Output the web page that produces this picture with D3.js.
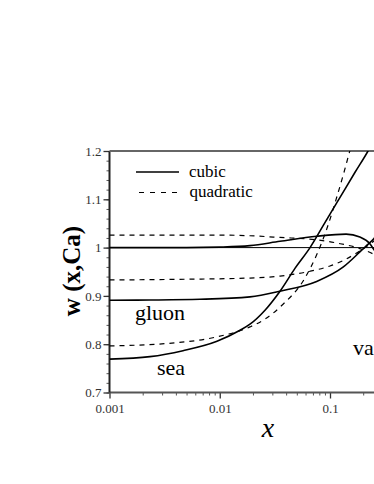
<!DOCTYPE html>
<html>
<head>
<meta charset="utf-8">
<script src="https://cdn.jsdelivr.net/npm/d3@7"></script>
<style>
  body { margin: 0; background: #fff; overflow: hidden; }
  svg { display: block; }
  .lbl { font-family: "Liberation Serif", "Times New Roman", serif; fill: #000; }
</style>
</head>
<body>
<svg id="chart"></svg>
<script>
var W = 374, H = 484;
var margin = {top: 151, left: 109.5, bottom: 91.5};

// x values, w values off the linear axis
var seaCubicX   = [0.001, 0.00233, 0.00464, 0.00944, 0.01527, 0.0188, 0.02573, 0.0352, 0.0481, 0.0659, 0.0883, 0.1233, 0.1687, 0.2212, 0.26];
var seaCubicW   = [0.769, 0.7742, 0.7866, 0.806, 0.8288, 0.8414, 0.8704, 0.9097, 0.957, 1.000, 1.0486, 1.104, 1.156, 1.2, 1.23];
var seaQuadX    = [0.001, 0.0033, 0.00938, 0.0188, 0.0257, 0.0375, 0.0569, 0.0762, 0.0939, 0.1157, 0.134, 0.1519, 0.17];
var seaQuadW    = [0.7965, 0.8014, 0.8151, 0.8358, 0.8518, 0.8828, 0.9304, 0.9866, 1.040, 1.106, 1.156, 1.2017, 1.24];
var gluonCubicX = [0.001, 0.00233, 0.00662, 0.0188, 0.0352, 0.0757, 0.1322, 0.1866, 0.2165, 0.2506, 0.3];
var gluonCubicW = [0.891, 0.8915, 0.893, 0.898, 0.9097, 0.930, 0.960, 0.991, 1.005, 1.0188, 1.04];
var gluonQuadX  = [0.001, 0.005, 0.0188, 0.0352, 0.0659, 0.1, 0.134, 0.1866, 0.23, 0.3];
var gluonQuadW  = [0.933, 0.9345, 0.937, 0.941, 0.951, 0.962, 0.974, 0.993, 1.007, 1.03];
var valCubicX   = [0.001, 0.005, 0.01, 0.0188, 0.0352, 0.0757, 0.14, 0.1866, 0.23, 0.25, 0.3];
var valCubicW   = [1.0, 1.0, 1.001, 1.004, 1.013, 1.0235, 1.028, 1.022, 1.008, 0.996, 0.975];
var valQuadX    = [0.001, 0.01, 0.0188, 0.0352, 0.0757, 0.118, 0.1866, 0.25, 0.3];
var valQuadW    = [1.026, 1.026, 1.0245, 1.021, 1.016, 1.009, 0.998, 0.986, 0.975];

var xTicks = [0.001, 0.01, 0.1];
var xTickLabels = ["0.001", "0.01", "0.1"];
var yTicks = [0.7, 0.8, 0.9, 1.0, 1.1, 1.2];
var yTickLabels = ["0.7", "0.8", "0.9", "1", "1.1", "1.2"];
var legendLabels = ["cubic", "quadratic"];
var curveLabels = ["gluon", "sea", "valence"];

function zip(xs, ws) { return xs.map(function(d, i) { return {x: d, w: ws[i]}; }); }

var series = [
  {pts: zip(seaCubicX, seaCubicW), dash: null},
  {pts: zip(seaQuadX, seaQuadW), dash: "5,5"},
  {pts: zip(gluonCubicX, gluonCubicW), dash: null},
  {pts: zip(gluonQuadX, gluonQuadW), dash: "5,5"},
  {pts: zip(valCubicX, valCubicW), dash: null},
  {pts: zip(valQuadX, valQuadW), dash: "5,5"}
];

var x = d3.scaleLog().domain([0.001, 1]).range([margin.left, margin.left + 3 * 110.25]);
var y = d3.scaleLinear().domain([0.7, 1.2]).range([H - margin.bottom, margin.top]);

var svg = d3.select("#chart").attr("width", W).attr("height", H);

svg.append("defs").append("clipPath").attr("id", "plot")
  .append("rect")
    .attr("x", x(0.001)).attr("y", y(1.2))
    .attr("width", x(1) - x(0.001)).attr("height", y(0.7) - y(1.2));

// minor ticks
var xMinor = [];
[0.001, 0.01, 0.1].forEach(function(d) { for (var k = 2; k < 10; k++) xMinor.push(d * k); });
var yMinor = d3.range(0.7, 1.2001, 0.02);

svg.append("g")
    .attr("transform", "translate(0," + y(0.7) + ")")
    .call(d3.axisBottom(x).tickValues(xMinor).tickSize(3).tickFormat(""))
    .call(function(g) { g.select(".domain").remove(); g.selectAll("line").attr("stroke", "#555"); });

svg.append("g")
    .attr("transform", "translate(" + x(0.001) + ",0)")
    .call(d3.axisLeft(y).tickValues(yMinor).tickSize(3).tickFormat(""))
    .call(function(g) { g.select(".domain").remove(); g.selectAll("line").attr("stroke", "#555"); });

function styleMajor(g) {
  g.select(".domain").remove();
  g.attr("font-family", "'Liberation Serif', 'Times New Roman', serif").attr("font-size", 13);
  g.selectAll("text").attr("fill", "#333");
  g.selectAll("line").attr("stroke", "#333").attr("stroke-width", 1.3);
}

// major ticks
svg.append("g")
    .attr("transform", "translate(0," + y(0.7) + ")")
    .call(d3.axisBottom(x).tickValues(xTicks).tickSize(6).tickPadding(5)
      .tickFormat(function(d, i) { return xTickLabels[i]; }))
    .call(styleMajor);

svg.append("g")
    .attr("transform", "translate(" + x(0.001) + ",0)")
    .call(d3.axisLeft(y).tickValues(yTicks).tickSize(6).tickPadding(2)
      .tickFormat(function(d, i) { return yTickLabels[i]; }))
    .call(styleMajor);

// frame
svg.append("line")
    .attr("x1", x(0.001)).attr("x2", x(1)).attr("y1", y(0.7)).attr("y2", y(0.7))
    .attr("stroke", "#555").attr("stroke-width", 2);
svg.append("line")
    .attr("x1", x(0.001)).attr("x2", x(0.001)).attr("y1", y(1.2)).attr("y2", y(0.7))
    .attr("stroke", "#222").attr("stroke-width", 2);
svg.append("line")
    .attr("x1", x(0.001)).attr("x2", x(1)).attr("y1", y(1.2)).attr("y2", y(1.2))
    .attr("stroke", "#666").attr("stroke-width", 2);

// reference line at 1
svg.append("line")
    .attr("x1", x(0.001)).attr("x2", x(1)).attr("y1", y(1)).attr("y2", y(1))
    .attr("stroke", "#000").attr("stroke-width", 1);

var line = d3.line()
    .x(function(d) { return x(d.x); })
    .y(function(d) { return y(d.w); })
    .curve(d3.curveMonotoneX);

svg.append("g").attr("clip-path", "url(#plot)")
  .selectAll("path").data(series).enter().append("path")
    .attr("d", function(d) { return line(d.pts); })
    .attr("fill", "none")
    .attr("stroke", "#000")
    .attr("stroke-width", function(d) { return d.dash ? 1.2 : 1.6; })
    .attr("stroke-dasharray", function(d) { return d.dash; });

// legend
svg.append("line").attr("x1", 136).attr("x2", 179).attr("y1", 172).attr("y2", 172)
    .attr("stroke", "#000").attr("stroke-width", 1.4);
svg.append("line").attr("x1", 139).attr("x2", 179).attr("y1", 192.5).attr("y2", 192.5)
    .attr("stroke", "#000").attr("stroke-width", 1.2).attr("stroke-dasharray", "5,6");
svg.append("text").attr("class", "lbl").attr("x", 189).attr("y", 177)
    .attr("font-size", 17).text(legendLabels[0]);
svg.append("text").attr("class", "lbl").attr("x", 189.5).attr("y", 197)
    .attr("font-size", 17).text(legendLabels[1]);

// curve labels
svg.append("text").attr("class", "lbl").attr("x", 135).attr("y", 320)
    .attr("font-size", 22).text(curveLabels[0]);
svg.append("text").attr("class", "lbl").attr("x", 157).attr("y", 375)
    .attr("font-size", 22).text(curveLabels[1]);
svg.append("text").attr("class", "lbl").attr("x", 353).attr("y", 355)
    .attr("font-size", 22).text(curveLabels[2]);

// axis titles
svg.append("text").attr("class", "lbl")
    .attr("transform", "translate(80,271) rotate(-90)")
    .attr("text-anchor", "middle")
    .attr("font-size", 25).attr("font-weight", "bold")
    .text("w (x,Ca)");
svg.append("text").attr("class", "lbl")
    .attr("x", 268).attr("y", 437)
    .attr("text-anchor", "middle")
    .attr("font-size", 28).attr("font-style", "italic")
    .text("x");
</script>
</body>
</html>
